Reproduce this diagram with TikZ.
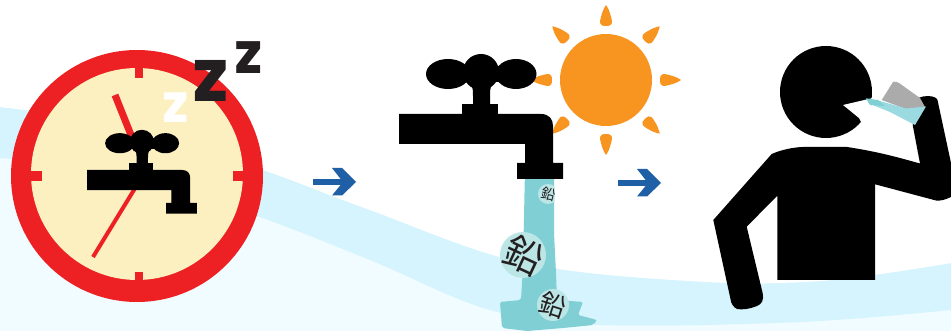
\documentclass[tikz,border=0pt]{standalone}
\usepackage{fontspec}
\setmainfont{Liberation Sans}
\newfontfamily\cjkfont{Noto Sans CJK JP}
\newfontfamily\zfont{Poppins Black}
\definecolor{bandblue}{HTML}{D6F4FD}
\definecolor{paleblue}{HTML}{F0FCFF}
\definecolor{clockred}{HTML}{ED2024}
\definecolor{clockcream}{HTML}{FCF0C0}
\definecolor{sunorange}{HTML}{F89521}
\definecolor{arrowblue}{HTML}{1F5FA6}
\definecolor{watertl}{HTML}{7FCFD5}
\definecolor{blobtl}{HTML}{BCE6E6}
\definecolor{zdark}{HTML}{231F20}
\definecolor{glassgrey}{HTML}{ABABAB}
\definecolor{glasswater}{HTML}{9ADAE0}
\tikzset{
  faucetshape/.pic={
    \fill[black] (49,-40) ellipse [x radius=22,y radius=15];
    \fill[black] (82,-42) circle [radius=18];
    \fill[black] (117,-40) ellipse [x radius=20.5,y radius=15];
    \fill[black] (60,-48) rectangle (105,-32);
    \fill[black] (72,-30) .. controls (74,-26) and (74,-22) .. (74,-18) -- (74,0) -- (91,0) -- (91,-18) .. controls (91,-22) and (91,-26) .. (93,-30) -- cycle;
    \fill[black] (63,-10) rectangle (99,1);
    \fill[black] (0,0) -- (142,0) .. controls (150,0) and (154,5) .. (154,12)
      -- (154,49) -- (164,49) -- (164,65) -- (118,65) -- (118,49) -- (126,49) -- (126,30) -- (0,30) -- cycle;
  },
  sunray/.style={fill=sunorange},
  blueshaft/.style={draw=arrowblue,line width=5.5pt},
  bluehead/.style={fill=arrowblue},
  zletter/.style={inner sep=0pt,text=zdark},
  leadmark/.style={inner sep=0pt,text=zdark},
}
\newcommand{\raydrop}[2]{%
  \fill[sunray,rotate around={#1:(606,80)}] (#2,80) .. controls (#2,72) and (#2+5,74) .. (#2+9,75)
    .. controls (#2+14,76) and (#2+18,78) .. (#2+21,80)
    .. controls (#2+18,82) and (#2+14,84) .. (#2+9,85) .. controls (#2+5,86) and (#2,88) .. (#2,80) -- cycle;}
\newcommand{\bigarrow}[2]{%
  \draw[blueshaft] (#1,#2) -- (#1+32,#2);
  \fill[bluehead] (#1+19,#2-14) -- (#1+29,#2-14) -- (#1+43,#2) -- (#1+29,#2+13.5) -- (#1+19,#2+13.5) -- (#1+30,#2) -- cycle;}
\begin{document}
\begin{tikzpicture}[x=1pt,y=-1pt]
\useasboundingbox (0,0) rectangle (951,331);
% background band
\fill[paleblue] (0,100) rectangle (951,331);
\fill[bandblue] plot[smooth,tension=0.6] coordinates {(0,107) (130,127) (263,170) (370,210) (520,262) (690,281) (820,281) (951,263)}
  -- (951,310)
  -- plot[smooth,tension=0.6] coordinates {(951,310) (800,322) (600,325) (490,310) (370,260) (260,217) (130,173) (0,158)} -- cycle;
\fill[white] plot[smooth,tension=0.6] coordinates {(0,107) (130,127) (263,170) (370,210) (520,262) (690,281) (820,281) (951,263)}
  -- (951,0) -- (0,0) -- cycle;
% clock
\fill[clockred] (137,176) circle [radius=126];
\fill[clockcream] (137,174) circle [radius=106];
\fill[clockred] (135,68) rectangle (143,78);
\fill[clockred] (135,272) rectangle (143,282);
\fill[clockred] (30,171) rectangle (42,181);
\fill[clockred] (233,171) rectangle (245,181);
\draw[clockred,line width=7pt] (115,95) -- (137,150);
\draw[clockred,line width=4pt] (93,257) -- (137,185);
\pic at (87,170) [scale=0.67] {faucetshape};
\node[zletter,text=white,font=\zfont\fontsize{42}{42}\selectfont] (zwhite) at (176,108) {Z};
\node[zletter,font=\zfont\fontsize{58}{58}\selectfont] (zbig) at (210.5,81) {Z};
\node[zletter,font=\zfont\fontsize{45}{45}\selectfont] (zsmall) at (249,58) {Z};
\bigarrow{313}{182}
% sun
\fill[sunorange] (606,80) circle [radius=46];
\raydrop{90}{660}\raydrop{270}{660}\raydrop{0}{660}\raydrop{180}{660}
\raydrop{45}{661}\raydrop{135}{661}\raydrop{225}{661}\raydrop{315}{661}
% water
\fill[watertl,rounded corners=2pt] (525,170) -- (554,170) -- (554,233) -- (556,273) -- (557,300) -- (583,302)
  -- (578,315) -- (597,320) -- (593,325) -- (563,328) -- (527,331) -- (502,328) -- (500,302)
  -- (521,300) -- (523,267) -- (524,217) -- cycle;
\begin{scope}
  \clip (530,180) rectangle (554.5,210);
  \fill[blobtl] (548,194) circle [radius=10];
\end{scope}
\fill[blobtl] (523,255) circle [radius=23];
\fill[blobtl] (553,305) circle [radius=16];
\pic at (399,114) {faucetshape};
\node[leadmark,rotate=-15,font=\cjkfont\fontsize{14}{14}\selectfont] (leadone) at (549,194) {鉛};
\node[leadmark,rotate=-25,font=\cjkfont\fontsize{38}{38}\selectfont] (leadtwo) at (524,255) {鉛};
\node[leadmark,rotate=-18,font=\cjkfont\fontsize{26}{26}\selectfont] (leadthree) at (553,305) {鉛};
\bigarrow{618}{183}
% person
\fill[black] (826,92) circle [radius=46];
\fill[white] (843,105) -- (873,98) -- (890,100) -- (885,125) -- (862,124) -- (859,118) -- cycle;
\fill[black] (771.7,154) .. controls (785,148) and (800,147) .. (803,147)
  -- (847,147) .. controls (880,152) and (900,158) .. (920,163.5)
  -- (912.7,125) -- (918,98) -- (923,96.5) .. controls (930,95) and (937,97) .. (937.5,100)
  -- (951,163) -- (951,197) .. controls (945,200) and (940,201) .. (936,200.5)
  -- (875,184.3) -- (875,280) -- (777.3,280) -- (777.3,195.7) -- (746.7,226.7)
  -- (762.7,293.3) .. controls (764,300) and (762,304) .. (757,306)
  .. controls (750,309) and (742,310) .. (737,309) .. controls (733,307) and (731,303) .. (730.7,300)
  -- (713.3,220) -- cycle;
% glass
\fill[glassgrey] (881.7,100) -- (893,82) .. controls (895,81) and (897,82) .. (899,83) -- (920,98) -- (925,107) -- (906,109) -- cycle;
\fill[glasswater] (866,98.5) -- (880,101) -- (906,108.5) -- (926,106.5) -- (915,125) -- (890,112) -- (870,104) -- cycle;
\fill[watertl] (866,98.5) -- (878,100) -- (885,106) -- (870,105) -- cycle;
\end{tikzpicture}
\end{document}
